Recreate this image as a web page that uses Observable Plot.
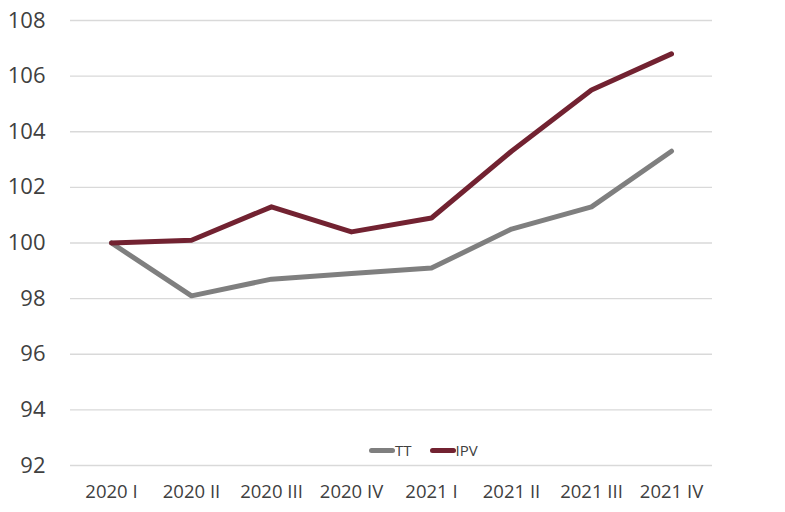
<!DOCTYPE html>
<html>
<head>
<meta charset="utf-8">
<script src="https://cdn.jsdelivr.net/npm/d3@7"></script>
<script src="https://cdn.jsdelivr.net/npm/@observablehq/plot@0.6"></script>
<style>
  html, body { margin: 0; padding: 0; background: #fff; }
  #wrap { position: relative; width: 785px; height: 512px; font-family: "Open Sans", sans-serif; }
  #legend { position: absolute; top: 440px; left: 369px; display: flex; align-items: center; font-size: 15px; color: #404040; }
  .item { display: flex; align-items: center; margin-right: 18px; }
  .sw { width: 26px; height: 5px; border-radius: 3px; display: inline-block; }
</style>
</head>
<body>
<div id="wrap"><div id="chart"></div><div id="legend"></div></div>
<script>
const quarters = ["2020 I","2020 II","2020 III","2020 IV","2021 I","2021 II","2021 III","2021 IV"];
const seriesNames = ["TT","IPV"];
const ttValues = [100, 98.1, 98.7, 98.9, 99.1, 100.5, 101.3, 103.3];
const ipvValues = [100, 100.1, 101.3, 100.4, 100.9, 103.3, 105.5, 106.8];
const colors = ["#7f7f7f", "#722231"];
const yTicks = [92, 94, 96, 98, 100, 102, 104, 106, 108];

const data = [];
quarters.forEach((q, i) => {
  data.push({q, v: ttValues[i], s: "TT"});
  data.push({q, v: ipvValues[i], s: "IPV"});
});

const plot = Plot.plot({
  width: 785,
  height: 512,
  marginLeft: 70,
  marginRight: 73,
  marginTop: 20,
  marginBottom: 47,
  style: { fontFamily: "Open Sans, sans-serif", color: "#404040", background: "#fff" },
  x: { type: "point", domain: quarters, padding: 0.5, label: null },
  y: { domain: [92, 108], label: null },
  color: { domain: seriesNames, range: colors },
  marks: [
    Plot.gridY(yTicks, { stroke: "#d9d9d9", strokeOpacity: 1, strokeWidth: 1.3 }),
    Plot.axisY(yTicks, { tickSize: 0, tickPadding: 25, fontSize: 22, fill: "#404040" }),
    Plot.axisX({ tickSize: 0, tickPadding: 19, fontSize: 18.5, fill: "#404040" }),
    Plot.line(data, { x: "q", y: "v", stroke: "s", strokeWidth: 5, strokeLinecap: "round", strokeLinejoin: "round" })
  ]
});
document.getElementById("chart").appendChild(plot);

const legend = document.getElementById("legend");
seriesNames.forEach((n, i) => {
  const it = document.createElement("div");
  it.className = "item";
  const sw = document.createElement("span");
  sw.className = "sw";
  sw.style.background = colors[i];
  const t = document.createElement("span");
  t.textContent = n;
  it.appendChild(sw); it.appendChild(t);
  legend.appendChild(it);
});
</script>
</body>
</html>
